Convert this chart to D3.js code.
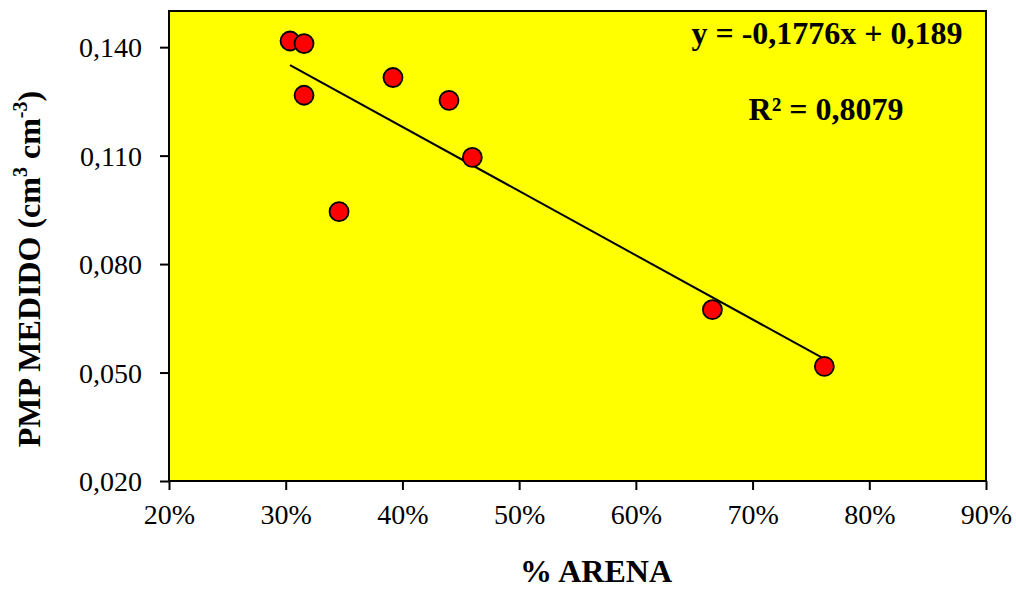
<!DOCTYPE html>
<html><head><meta charset="utf-8">
<script src="https://cdn.jsdelivr.net/npm/d3@7"></script>
<style>body{margin:0;background:#fff}svg{display:block}text{font-family:"Liberation Serif","Times New Roman",serif}</style>
</head><body><svg id="c" width="1016" height="590"></svg>
<script>
const arena = [0.3037, 0.3157, 0.3157, 0.3919, 0.4399, 0.4599, 0.3457, 0.6656, 0.7615];
const pmp   = [0.1417, 0.1410, 0.1267, 0.1316, 0.1253, 0.1095, 0.0945, 0.0674, 0.0517];
const xTicks = [0.2, 0.3, 0.4, 0.5, 0.6, 0.7, 0.8, 0.9];
const yTicks = [0.02, 0.05, 0.08, 0.11, 0.14];
const slope = -0.1776, intercept = 0.189;
const eqText = "y = -0,1776x + 0,189";
const r2Text = "R² = 0,8079";

const svg = d3.select("#c");
const L = 169, R = 986, T = 11, B = 481;
const x = d3.scaleLinear().domain([0.2, 0.9]).range([L, R]);
const y = d3.scaleLinear().domain([0.02, 0.15]).range([B, T]);

svg.append("rect").attr("x", L).attr("y", T).attr("width", R - L).attr("height", B - T)
  .attr("fill", "#ffff00").attr("stroke", "#000").attr("stroke-width", 2);

const xa = svg.append("g").attr("transform", `translate(0,${B})`)
  .call(d3.axisBottom(x).tickValues(xTicks).tickSize(9).tickPadding(9)
    .tickFormat(d => Math.round(d * 100) + "%"));
const ya = svg.append("g").attr("transform", `translate(${L},0)`)
  .call(d3.axisLeft(y).tickValues(yTicks).tickSize(9).tickPadding(18)
    .tickFormat(d => d3.format(".3f")(d).replace(".", ",")));
[xa, ya].forEach(a => {
  a.select(".domain").remove();
  a.selectAll("line").attr("stroke", "#000").attr("stroke-width", 2);
  a.selectAll("text").attr("fill", "#000").style("font-size", "28px")
    .style("font-family", '"Liberation Serif","Times New Roman",serif');
});
ya.selectAll("text").attr("dy", "0.35em");
xa.selectAll("text").attr("dy", "0.88em");

// trend line
const xmin = d3.min(arena), xmax = d3.max(arena);
svg.append("line").attr("x1", x(xmin)).attr("y1", y(slope * xmin + intercept))
  .attr("x2", x(xmax)).attr("y2", y(slope * xmax + intercept))
  .attr("stroke", "#000").attr("stroke-width", 2);

svg.append("g").selectAll("circle").data(arena.map((a, i) => [a, pmp[i]])).join("circle")
  .attr("cx", d => x(d[0])).attr("cy", d => y(d[1])).attr("r", 9.5)
  .attr("fill", "#ff0000").attr("stroke", "#000").attr("stroke-width", 1.8);

svg.append("text").attr("x", 827).attr("y", 44).attr("text-anchor", "middle")
  .attr("font-weight", "bold").attr("font-size", 32).text(eqText);
svg.append("text").attr("x", 826).attr("y", 120).attr("text-anchor", "middle")
  .attr("font-weight", "bold").attr("font-size", 32).text(r2Text);

svg.append("text").attr("x", 596).attr("y", 582).attr("text-anchor", "middle")
  .attr("font-weight", "bold").attr("font-size", 32).text("% ARENA");

const yt = svg.append("text").attr("transform", "translate(40,269) rotate(-90)")
  .attr("text-anchor", "middle").attr("font-weight", "bold").attr("font-size", 32);
yt.append("tspan").text("PMP MEDIDO (cm");
yt.append("tspan").attr("font-size", 20).attr("dy", -13).text("3");
yt.append("tspan").attr("dy", 13).text(" cm");
yt.append("tspan").attr("font-size", 20).attr("dy", -13).text("-3");
yt.append("tspan").attr("dy", 13).text(")");
</script></body></html>
